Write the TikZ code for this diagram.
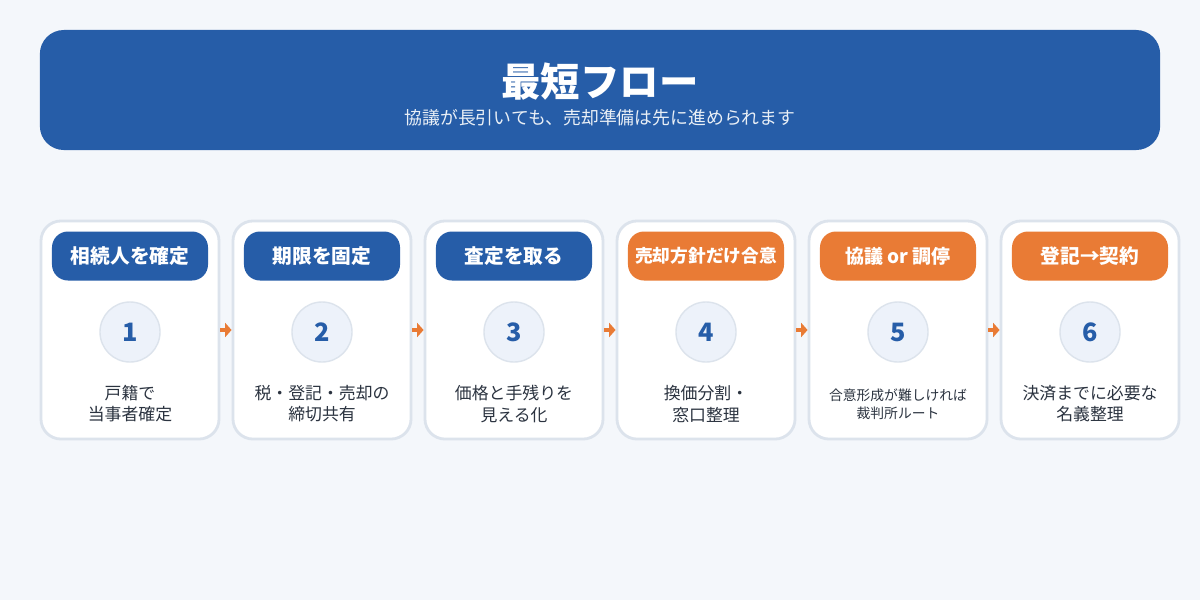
\documentclass[tikz,border=0pt]{standalone}
\usepackage{fontspec}
\setmainfont{Noto Sans CJK JP}
\usetikzlibrary{arrows.meta}

\definecolor{mainblue}{HTML}{265DA8}
\definecolor{accent}{HTML}{E97B35}
\definecolor{cardline}{HTML}{DCE3EC}
\definecolor{pagebg}{HTML}{F4F7FB}
\definecolor{bodytext}{HTML}{2B3340}
\definecolor{numfill}{HTML}{EDF2FA}

\begin{document}
\begin{tikzpicture}
            [
                x=0.025cm, y=-0.025cm,
                banner/.style={fill=mainblue, rounded corners=0.6cm, minimum width=28cm, minimum height=3cm},
                card/.style={draw=cardline, line width=2pt, fill=white, rounded corners=0.5cm, minimum width=4.45cm, minimum height=5.45cm},
                tag/.style={rounded corners=0.4cm, minimum width=3.9cm, minimum height=1.225cm, inner sep=0pt, text=white, font=\bfseries\fontsize{14}{16}\selectfont},
                blue tag/.style={tag, fill=mainblue},
                orange tag/.style={tag, fill=accent},
                num/.style={circle, draw=cardline, line width=1pt, fill=numfill, minimum size=1.5cm, text=mainblue, font=\bfseries\fontsize{18}{20}\selectfont},
                note/.style={align=center, text=bodytext, font=\fontsize{12}{15}\selectfont},
                flow/.style={draw=accent, line width=3.5pt, -{Triangle[length=0.16cm, width=0.35cm]}},
            ]
            \fill[pagebg] (0,0) rectangle (1200,600);
            \useasboundingbox (0,0) rectangle (1200,600);

            % banner
            \node[banner] (banner) at (600,90) {};
            \node[text=white, font=\bfseries\fontsize{28}{32}\selectfont] (title) at (600,82) {最短フロー};
            \node[text=white!90!mainblue, font=\fontsize{12.7}{15}\selectfont] (subtitle) at (600,118) {協議が長引いても、売却準備は先に進められます};

            % cards
            \node[card] (card1) at (130,330) {};
            \node[blue tag] (tag1) at (130,256) {相続人を確定};
            \node[num] (num1) at (130,332) {1};
            \node[note] (note1) at (130,404) {戸籍で\\当事者確定};

            \node[card] (card2) at (322,330) {};
            \node[blue tag] (tag2) at (322,256) {期限を固定};
            \node[num] (num2) at (322,332) {2};
            \node[note] (note2) at (322,404) {税・登記・売却の\\締切共有};

            \node[card] (card3) at (514,330) {};
            \node[blue tag] (tag3) at (514,256) {査定を取る};
            \node[num] (num3) at (514,332) {3};
            \node[note] (note3) at (514,404) {価格と手残りを\\見える化};

            \node[card] (card4) at (706,330) {};
            \node[orange tag, font=\bfseries\fontsize{12.6}{15}\selectfont] (tag4) at (706,256) {売却方針だけ合意};
            \node[num] (num4) at (706,332) {4};
            \node[note] (note4) at (706,404) {換価分割・\\窓口整理};

            \node[card] (card5) at (898,330) {};
            \node[orange tag, font=\bfseries\fontsize{13.5}{16}\selectfont] (tag5) at (898,256) {協議 or 調停};
            \node[num] (num5) at (898,332) {5};
            \node[note, font=\fontsize{9.8}{12.8}\selectfont] (note5) at (898,404) {合意形成が難しければ\\裁判所ルート};

            \node[card] (card6) at (1090,330) {};
            \node[orange tag] (tag6) at (1090,256) {登記→契約};
            \node[num] (num6) at (1090,332) {6};
            \node[note] (note6) at (1090,404) {決済までに必要な\\名義整理};

            % arrows between cards
            \draw[flow] (card1.east) -- (card2.west);
            \draw[flow] (card2.east) -- (card3.west);
            \draw[flow] (card3.east) -- (card4.west);
            \draw[flow] (card4.east) -- (card5.west);
            \draw[flow] (card5.east) -- (card6.west);
        \end{tikzpicture}
\end{document}
